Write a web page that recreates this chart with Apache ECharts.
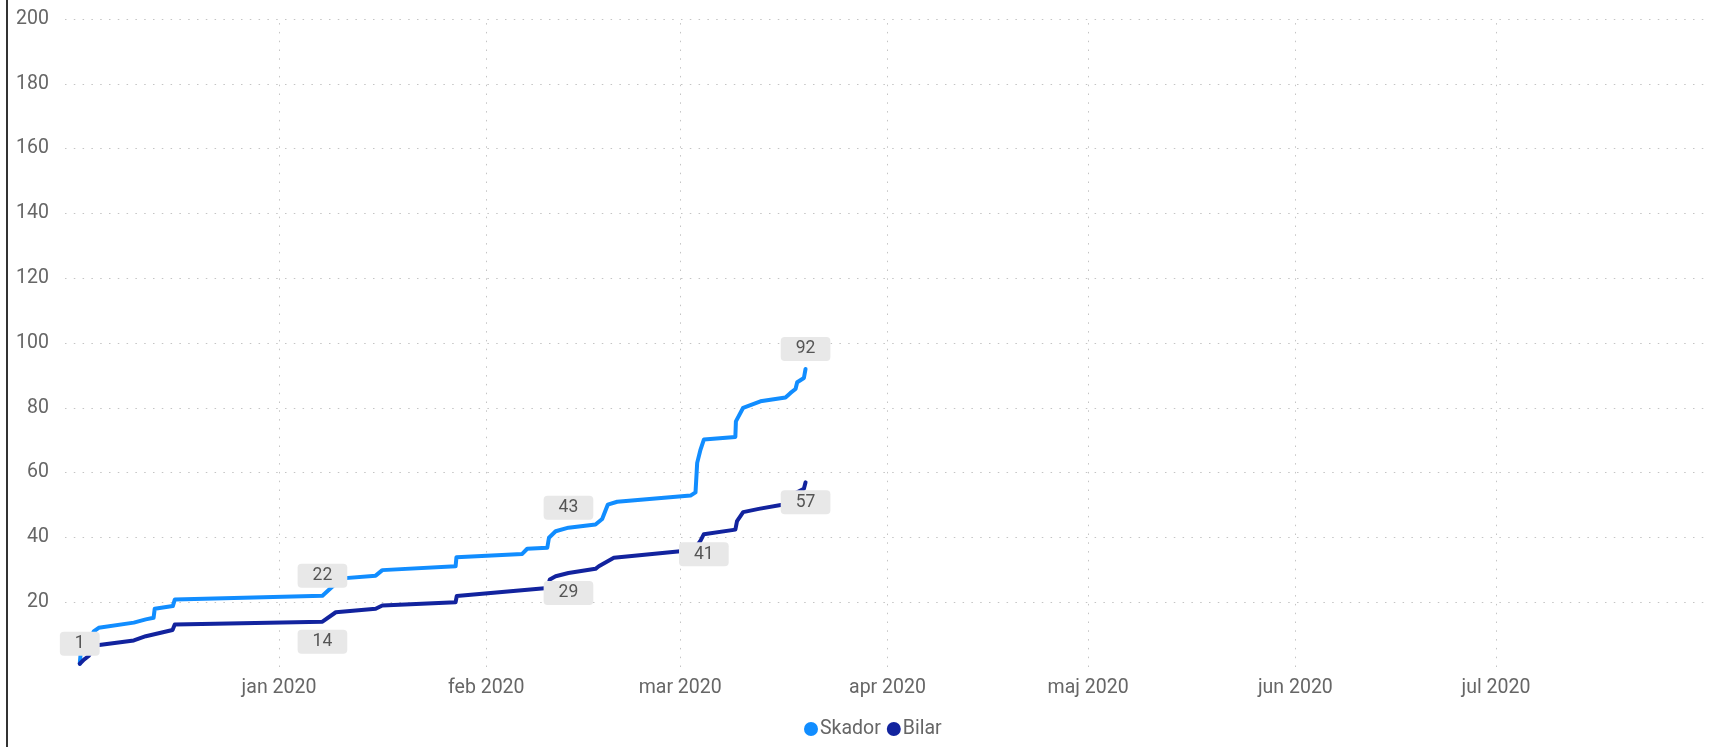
<!DOCTYPE html>
<html>
<head>
<meta charset="utf-8">
<script src="https://cdn.jsdelivr.net/npm/echarts@6/dist/echarts.min.js"></script>
<style>
html,body{margin:0;padding:0;background:#fff;}
#chart{width:1723px;height:747px;}
</style>
</head>
<body>
<div id="chart"></div>
<script>
const monthNames = ['jan','feb','mar','apr','maj','jun','jul','aug','sep','okt','nov','dec'];
const monthTicks = ['2020-01-01','2020-02-01','2020-03-01','2020-04-01','2020-05-01','2020-06-01','2020-07-01'];
const yTicks = [0, 20, 40, 60, 80, 100, 120, 140, 160, 180, 200];
const seriesNames = ['Skador', 'Bilar'];

const skadorDates = [
  '2019-12-02 05:00','2019-12-02 09:00','2019-12-03 03:00','2019-12-03 13:00','2019-12-04 07:00',
  '2019-12-05 01:00','2019-12-10 07:00','2019-12-12 02:00','2019-12-13 06:00','2019-12-13 10:00',
  '2019-12-16 03:00','2019-12-16 10:00','2020-01-07 12:00','2020-01-09 05:00','2020-01-09 12:00',
  '2020-01-15 11:00','2020-01-16 11:00','2020-01-27 10:00','2020-01-27 13:00','2020-02-06 09:00',
  '2020-02-07 03:00','2020-02-10 03:00','2020-02-10 09:00','2020-02-11 09:00','2020-02-13 07:00',
  '2020-02-17 08:00','2020-02-18 08:00','2020-02-19 04:00','2020-02-20 14:00','2020-03-02 13:00',
  '2020-03-03 07:00','2020-03-03 13:00','2020-03-04 01:00','2020-03-04 13:00','2020-03-09 06:00',
  '2020-03-09 08:00','2020-03-09 12:00','2020-03-10 10:00','2020-03-13 00:00','2020-03-16 18:00',
  '2020-03-17 12:00','2020-03-18 06:00','2020-03-18 12:00','2020-03-19 12:00','2020-03-19 18:00'
];
const skadorValues = [
  1, 5, 6.2, 7, 11,
  12.1, 13.7, 14.7, 15.2, 18,
  18.8, 20.8, 22, 25.2, 27.2,
  28.2, 29.9, 31.1, 33.9, 34.9,
  36.5, 36.8, 39.9, 41.9, 43,
  44, 45.7, 50.1, 51, 52.9,
  53.9, 63, 67.1, 70.2, 71,
  75.8, 76.3, 80, 82, 83.2,
  84.6, 85.8, 87.9, 89.2, 92
];
const skadorLabelDates = ['2019-12-02 05:00','2020-01-07 12:00','2020-02-13 07:00','2020-03-19 18:00'];

const bilarDates = [
  '2019-12-02 05:00','2019-12-02 20:00','2019-12-03 13:00','2019-12-04 03:00','2019-12-04 20:00',
  '2019-12-10 07:00','2019-12-12 02:00','2019-12-16 02:00','2019-12-16 10:00','2020-01-07 12:00',
  '2020-01-09 12:00','2020-01-15 11:00','2020-01-16 11:00','2020-01-27 10:00','2020-01-27 14:00',
  '2020-02-10 03:00','2020-02-10 12:00','2020-02-11 09:00','2020-02-13 07:00','2020-02-17 08:00',
  '2020-02-17 20:00','2020-02-20 02:00','2020-03-02 13:00','2020-03-03 13:00','2020-03-04 01:00',
  '2020-03-04 13:00','2020-03-09 06:00','2020-03-09 12:00','2020-03-10 10:00','2020-03-12 18:00',
  '2020-03-16 06:00','2020-03-17 00:00','2020-03-18 06:00','2020-03-19 12:00','2020-03-19 18:00'
];
const bilarValues = [
  1, 2.3, 3.4, 5.4, 6.7,
  8.2, 9.5, 11.4, 13.1, 14,
  16.9, 18, 19, 20, 21.9,
  24.4, 27, 28, 29, 30.3,
  31.1, 33.7, 36, 37.5, 39,
  41, 42.4, 45, 47.8, 48.8,
  50.1, 51.2, 53.7, 55, 57
];
const bilarLabelDates = ['2020-01-07 12:00','2020-02-13 07:00','2020-03-04 13:00','2020-03-19 18:00'];

const colors = ['#118DFF', '#12239E'];
const FONT = 'Roboto, "Noto Sans", sans-serif';
const gridStyle = { color: '#c4c4c4', width: 1, type: [1.5, 7.3] };

function buildData(dates, values, labelDates) {
  return dates.map((d, i) => ({
    value: [d, values[i]],
    label: { show: labelDates.indexOf(d) >= 0 }
  }));
}

const labelStyle = {
  color: '#555',
  fontFamily: FONT,
  fontSize: 17.5,
  lineHeight: 16,
  backgroundColor: '#e8e8e8',
  borderRadius: 4,
  padding: [4, 15, 4, 15],
  distance: 8,
  formatter: p => String(p.value[1])
};

const chart = echarts.init(document.getElementById('chart'));
chart.setOption({
  animation: false,
  backgroundColor: '#fff',
  graphic: [{
    type: 'line',
    shape: { x1: 7, y1: 0, x2: 7, y2: 747 },
    style: { stroke: '#333', lineWidth: 2 }
  }],
  grid: { left: 65, right: 15, top: 19, bottom: 80, containLabel: false, outerBoundsMode: 'none' },
  legend: {
    data: seriesNames,
    left: 799,
    top: 714,
    icon: 'circle',
    itemWidth: 14,
    itemHeight: 14,
    itemGap: 6,
    textStyle: { color: '#666', fontSize: 19.5, fontFamily: FONT, padding: [0, 0, 0, -3] }
  },
  xAxis: {
    type: 'time',
    min: '2019-11-30 00:00',
    max: '2020-08-01 17:00',
    splitNumber: 8,
    minInterval: 28 * 86400000,
    maxInterval: 31 * 86400000,
    axisLine: { show: false },
    axisTick: { show: false },
    axisLabel: {
      color: '#666',
      fontSize: 19.5,
      fontFamily: FONT,
      margin: 11,
      hideOverlap: false,
      formatter: function (v) {
        const d = new Date(v);
        const m = d.getMonth();
        if (d.getDate() !== 1 || d.getHours() !== 0 || m === 11 || m === 7) return '';
        return monthNames[m] + ' ' + d.getFullYear();
      }
    },
    splitLine: { show: false }
  },
  yAxis: {
    type: 'value',
    min: yTicks[0],
    max: yTicks[yTicks.length - 1],
    interval: yTicks[1] - yTicks[0],
    axisLine: { show: false },
    axisTick: { show: false },
    axisLabel: {
      color: '#666',
      fontSize: 19.5,
      fontFamily: FONT,
      margin: 16,
      showMinLabel: false
    },
    splitLine: {
      show: true,
      showMinLine: false,
      lineStyle: gridStyle
    }
  },
  series: [
    {
      name: seriesNames[0],
      type: 'line',
      data: buildData(skadorDates, skadorValues, skadorLabelDates),
      symbol: 'circle',
      symbolSize: 0,
      showSymbol: true,
      color: colors[0],
      lineStyle: { width: 4, color: colors[0], cap: 'round', join: 'round' },
      label: Object.assign({ position: 'top' }, labelStyle),
      emphasis: { disabled: true },
      z: 3,
      markLine: {
        silent: true,
        symbol: ['none', 'none'],
        label: { show: false },
        lineStyle: gridStyle,
        emphasis: { disabled: true },
        z: 1,
        data: monthTicks.map(d => ({ xAxis: d }))
      }
    },
    {
      name: seriesNames[1],
      type: 'line',
      data: buildData(bilarDates, bilarValues, bilarLabelDates),
      symbol: 'circle',
      symbolSize: 0,
      showSymbol: true,
      color: colors[1],
      lineStyle: { width: 4, color: colors[1], cap: 'round', join: 'round' },
      label: Object.assign({ position: 'bottom' }, labelStyle),
      emphasis: { disabled: true },
      z: 3
    }
  ]
});
</script>
</body>
</html>
